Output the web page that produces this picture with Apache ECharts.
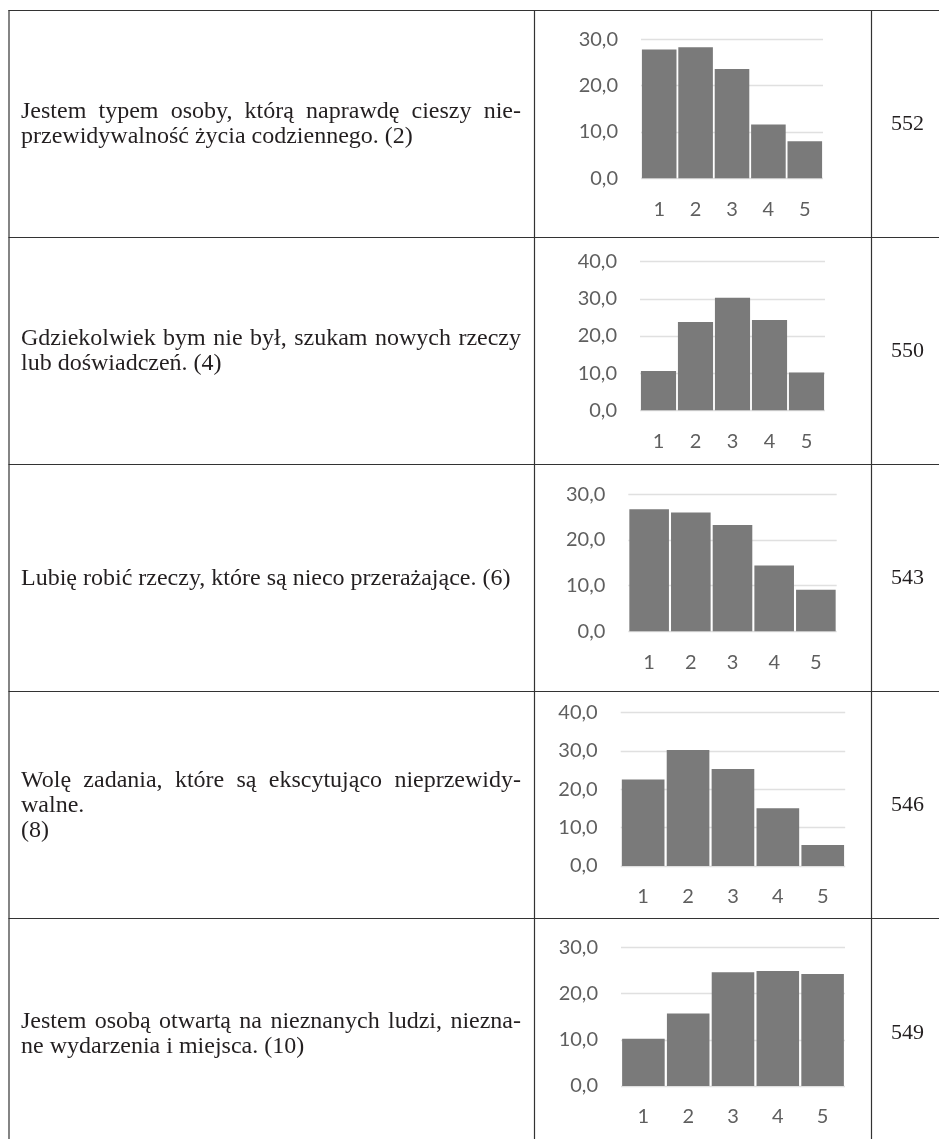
<!DOCTYPE html>
<html>
<head>
<meta charset="utf-8">
<script src="https://cdn.jsdelivr.net/npm/echarts@6/dist/echarts.min.js"></script>
<style>
html,body{margin:0;padding:0;background:#fff;}
#c{width:939px;height:1139px;}
</style>
</head>
<body>
<div id="c"></div>
<script>
// ---- data ----
const categories = ['1', '2', '3', '4', '5'];
const q2 = [27.8, 28.3, 23.6, 11.6, 8.0];
const q4 = [10.6, 23.8, 30.3, 24.3, 10.2];
const q6 = [26.7, 26.0, 23.3, 14.4, 9.1];
const q8 = [22.6, 30.3, 25.3, 15.1, 5.5];
const q10 = [10.2, 15.7, 24.6, 24.9, 24.2];
const yMaxes = [30, 40, 30, 40, 30];
const statements = [
  ['Jestem typem osoby, którą naprawdę cieszy nie-', 'przewidywalność życia codziennego. (2)'],
  ['Gdziekolwiek bym nie był, szukam nowych rzeczy', 'lub doświadczeń. (4)'],
  ['Lubię robić rzeczy, które są nieco przerażające. (6)'],
  ['Wolę zadania, które są ekscytująco nieprzewidy-', 'walne.', '(8)'],
  ['Jestem osobą otwartą na nieznanych ludzi, niezna-', 'ne wydarzenia i miejsca. (10)']
];
const counts = ['552', '550', '543', '546', '549'];
const seriesData = [q2, q4, q6, q8, q10];

// ---- layout ----
// which lines are justified (wrapped lines inside a paragraph)
const justified = [[true, false], [true, false], [false], [true, false, false], [true, false]];
const rowLines = [10, 237, 464, 691, 918, 1148];
const colX = { left: 8.5, mid: 534, num: 871 };
const textLeft = 21, textRight = 521, lineGap = 25;
const grids = [
  { left: 641, width: 182, top: 39.3, height: 139 },
  { left: 640, width: 185, top: 261.7, height: 148.6 },
  { left: 628.3, width: 208.4, top: 494.3, height: 137 },
  { left: 620.7, width: 224.5, top: 712.7, height: 153.3 },
  { left: 621, width: 224, top: 947.3, height: 138.7 }
];

const axisFont = 'Lato';
const axisColor = '#5f5f5f';
const gridColor = '#e0e0e0';
const textFont = '24px "Liberation Serif"';
const numFont = '22px "Liberation Serif"';
const textColor = '#231f20';

const measureCtx = document.createElement('canvas').getContext('2d');
measureCtx.font = textFont;

const chart = echarts.init(document.getElementById('c'), null, { renderer: 'canvas' });

const graphic = [];
const border = '#333333';
rowLines.forEach(y => {
  graphic.push({ type: 'line', shape: { x1: colX.left, y1: y + 0.5, x2: 939, y2: y + 0.5 }, style: { stroke: border, lineWidth: 1.2 }, silent: true });
});
[colX.left, colX.mid, colX.num].forEach(x => {
  graphic.push({ type: 'line', shape: { x1: x + 0.5, y1: rowLines[0], x2: x + 0.5, y2: 1139 }, style: { stroke: border, lineWidth: 1.2 }, silent: true });
});

function pushText(t, x, y, align, font) {
  graphic.push({
    type: 'text',
    style: { text: t, x: x, y: y, font: font, fill: textColor, align: align, verticalAlign: 'middle' },
    silent: true
  });
}

statements.forEach((lines, r) => {
  const cy = (rowLines[r] + rowLines[r + 1]) / 2 + 1;
  const n = lines.length;
  lines.forEach((t, i) => {
    const y = cy + (i - (n - 1) / 2) * lineGap;
    if (justified[r][i]) {
      const words = t.split(' ');
      const widths = words.map(w => measureCtx.measureText(w).width);
      const total = widths.reduce((a, b) => a + b, 0);
      const space = (textRight - textLeft - total) / (words.length - 1);
      let x = textLeft;
      words.forEach((w, k) => {
        pushText(w, x, y, 'left', textFont);
        x += widths[k] + space;
      });
    } else {
      pushText(t, textLeft, y, 'left', textFont);
    }
  });
  pushText(counts[r], 907.5, cy - 0.5, 'center', numFont);
});

const option = {
  animation: false,
  backgroundColor: '#fff',
  grid: grids.map(g => Object.assign({ containLabel: false }, g)),
  xAxis: grids.map((g, i) => ({
    type: 'category', gridIndex: i, data: categories,
    axisLine: { show: false }, axisTick: { show: false },
    axisLabel: { margin: 21, color: axisColor, fontFamily: axisFont, fontSize: 20 }
  })),
  yAxis: grids.map((g, i) => ({
    type: 'value', gridIndex: i, min: 0, max: yMaxes[i], interval: 10,
    axisLine: { show: false }, axisTick: { show: false },
    splitLine: { show: true, lineStyle: { color: gridColor, width: 1.3 } },
    axisLabel: { margin: 23, color: axisColor, fontFamily: axisFont, fontSize: 20,
      formatter: v => v.toFixed(1).replace('.', ',') }
  })),
  series: seriesData.map((d, i) => ({
    type: 'bar', xAxisIndex: i, yAxisIndex: i, data: d,
    barCategoryGap: '5%',
    itemStyle: { color: '#7a7a7a' },
    silent: true
  })),
  graphic: graphic
};
chart.setOption(option);
</script>
</body>
</html>
